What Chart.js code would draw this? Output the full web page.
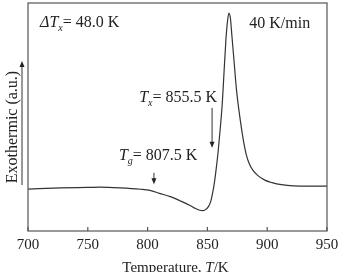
<!DOCTYPE html>
<html>
<head>
<meta charset="utf-8">
<script src="https://cdn.jsdelivr.net/npm/chart.js@4.4.1/dist/chart.umd.min.js"></script>
<style>
html,body{margin:0;padding:0;background:#fff;}
#wrap{width:338px;height:272px;position:relative;}
</style>
</head>
<body>
<div id="wrap"><canvas id="c" width="338" height="272"></canvas></div>
<script>
// Temperature (K)
const temperature = [700, 727, 750, 760, 777, 794, 802, 810, 819, 827, 835.5, 839.5, 843.5, 846.5, 849, 851, 852.8, 854.3, 855.8, 857.3, 859, 861, 862.5, 864, 865.5, 866.8, 868, 869.3, 870.5, 872.2, 874.3, 876.6, 878.5, 880.5, 882.5, 885, 888, 892, 898, 904, 912, 922, 935, 950];
// Heat flow signal (arbitrary units)
const heatFlow = [18.4, 18.9, 19.1, 19.2, 18.9, 18.3, 17.8, 16.5, 15.1, 13.3, 11.2, 10.0, 9.1, 8.9, 9.6, 10.8, 13.0, 16.5, 21.0, 27.0, 35.0, 46.5, 56.5, 70.5, 84.0, 92.0, 95.6, 93.0, 85.5, 75.0, 62.0, 52.0, 45.0, 38.5, 33.5, 29.5, 26.7, 24.4, 22.3, 21.2, 20.3, 19.8, 19.7, 19.7];
// x tick values
const xTicks = [700, 750, 800, 850, 900, 950];
// Annotated temperatures (K)
const Tg = 807.5, Tx = 855.5, dTx = 48.0;
const heatingRate = "40 K/min";

const SERIF = '"Liberation Serif","DejaVu Serif",serif';
const INK = '#222';

function richText(ctx, x, y, parts, align) {
  let widths = parts.map(p => {
    ctx.font = (p.italic ? 'italic ' : '') + (p.size) + 'px ' + SERIF;
    return ctx.measureText(p.t).width;
  });
  let total = widths.reduce((a, b) => a + b, 0);
  let cx = align === 'right' ? x - total : x;
  parts.forEach((p, i) => {
    ctx.font = (p.italic ? 'italic ' : '') + (p.size) + 'px ' + SERIF;
    ctx.fillText(p.t, cx, y + (p.sub ? 4 : 0));
    cx += widths[i];
  });
}

function arrowDown(ctx, x, y1, y2) {
  ctx.beginPath();
  ctx.moveTo(x, y1); ctx.lineTo(x, y2 - 5);
  ctx.stroke();
  ctx.beginPath();
  ctx.moveTo(x - 2.5, y2 - 6); ctx.lineTo(x + 2.5, y2 - 6); ctx.lineTo(x, y2); ctx.closePath();
  ctx.fill();
}

const decor = {
  id: 'decor',
  afterDraw(chart) {
    const ctx = chart.ctx, a = chart.chartArea;
    const xs = chart.scales.x, ys = chart.scales.y;
    ctx.save();
    // frame
    ctx.strokeStyle = '#555'; ctx.lineWidth = 1.2;
    ctx.strokeRect(a.left, a.top, a.right - a.left, a.bottom - a.top);
    // inner tick marks
    ctx.beginPath();
    xTicks.forEach(v => {
      const px = xs.getPixelForValue(v);
      ctx.moveTo(px, a.bottom); ctx.lineTo(px, a.bottom - 4);
    });
    ctx.stroke();

    ctx.fillStyle = INK; ctx.strokeStyle = '#333'; ctx.lineWidth = 1;
    ctx.textBaseline = 'alphabetic';
    // delta Tx
    richText(ctx, a.left + 12, a.top + 24, [
      {t: 'Δ', italic: true, size: 16},
      {t: 'T', italic: true, size: 16},
      {t: 'x', italic: true, size: 10, sub: true},
      {t: '= ' + dTx.toFixed(1) + ' K', size: 16}
    ]);
    // heating rate
    ctx.font = '16px ' + SERIF;
    ctx.textAlign = 'left';
    ctx.fillText(heatingRate, xs.getPixelForValue(885), a.top + 25);

    // Tx annotation
    const pxTx = xs.getPixelForValue(Tx - 1.6);
    richText(ctx, pxTx + 5, ys.getPixelForValue(56.5), [
      {t: 'T', italic: true, size: 16},
      {t: 'x', italic: true, size: 10, sub: true},
      {t: '= ' + Tx.toFixed(1) + ' K', size: 16}
    ], 'right');
    arrowDown(ctx, pxTx, ys.getPixelForValue(54), ys.getPixelForValue(36.5));

    // Tg annotation
    const pxTg = xs.getPixelForValue(Tg - 2.2);
    richText(ctx, pxTg - 35, ys.getPixelForValue(31.2), [
      {t: 'T', italic: true, size: 16},
      {t: 'g', italic: true, size: 10, sub: true},
      {t: '= ' + Tg.toFixed(1) + ' K', size: 16}
    ]);
    arrowDown(ctx, pxTg, ys.getPixelForValue(25.5), ys.getPixelForValue(20.5));

    // y title with arrow
    ctx.save();
    ctx.translate(13, (a.top + a.bottom) / 2 + 10);
    ctx.rotate(-Math.PI / 2);
    ctx.font = '16px ' + SERIF;
    ctx.textAlign = 'center'; ctx.textBaseline = 'middle';
    ctx.fillText('Exothermic (a.u.)', 0, 0);
    ctx.restore();
    ctx.strokeStyle = '#333';
    ctx.beginPath(); ctx.moveTo(22, 185); ctx.lineTo(22, 66); ctx.stroke();
    ctx.beginPath(); ctx.moveTo(19.5, 67); ctx.lineTo(24.5, 67); ctx.lineTo(22, 61); ctx.closePath(); ctx.fill();

    // x title
    ctx.textAlign = 'left'; ctx.textBaseline = 'alphabetic';
    const cxm = (a.left + a.right) / 2;
    const p1 = 'Temperature, ', p2 = 'T', p3 = '/K';
    ctx.font = '15px ' + SERIF; const w1 = ctx.measureText(p1).width, w3 = ctx.measureText(p3).width;
    ctx.font = 'italic 15px ' + SERIF; const w2 = ctx.measureText(p2).width;
    let sx = cxm - (w1 + w2 + w3) / 2 - 2;
    const by = 271.5;
    ctx.font = '15px ' + SERIF; ctx.fillText(p1, sx, by); sx += w1;
    ctx.font = 'italic 15px ' + SERIF; ctx.fillText(p2, sx, by); sx += w2;
    ctx.font = '15px ' + SERIF; ctx.fillText(p3, sx, by);
    ctx.restore();
  }
};

new Chart(document.getElementById('c'), {
  type: 'line',
  data: {
    datasets: [{
      data: temperature.map((t, i) => ({x: t, y: heatFlow[i]})),
      borderColor: '#333',
      borderWidth: 1.2,
      pointRadius: 0,
      fill: false,
      cubicInterpolationMode: 'monotone'
    }]
  },
  options: {
    responsive: false,
    animation: false,
    devicePixelRatio: 1,
    layout: {padding: {left: 28, right: 11, top: 3, bottom: 0}},
    plugins: {legend: {display: false}, tooltip: {enabled: false}},
    scales: {
      x: {
        type: 'linear', min: 700, max: 950,
        grid: {display: false, drawTicks: false},
        border: {display: false},
        afterBuildTicks: s => { s.ticks = xTicks.map(v => ({value: v})); },
        afterFit: s => { s.height = 41; s.paddingLeft = 0; s.paddingRight = 0; },
        ticks: {
          padding: 5, maxRotation: 0, autoSkip: false,
          color: INK, font: {family: SERIF, size: 15}
        }
      },
      y: {
        min: 0, max: 100, display: false
      }
    }
  },
  plugins: [decor]
});
</script>
</body>
</html>
